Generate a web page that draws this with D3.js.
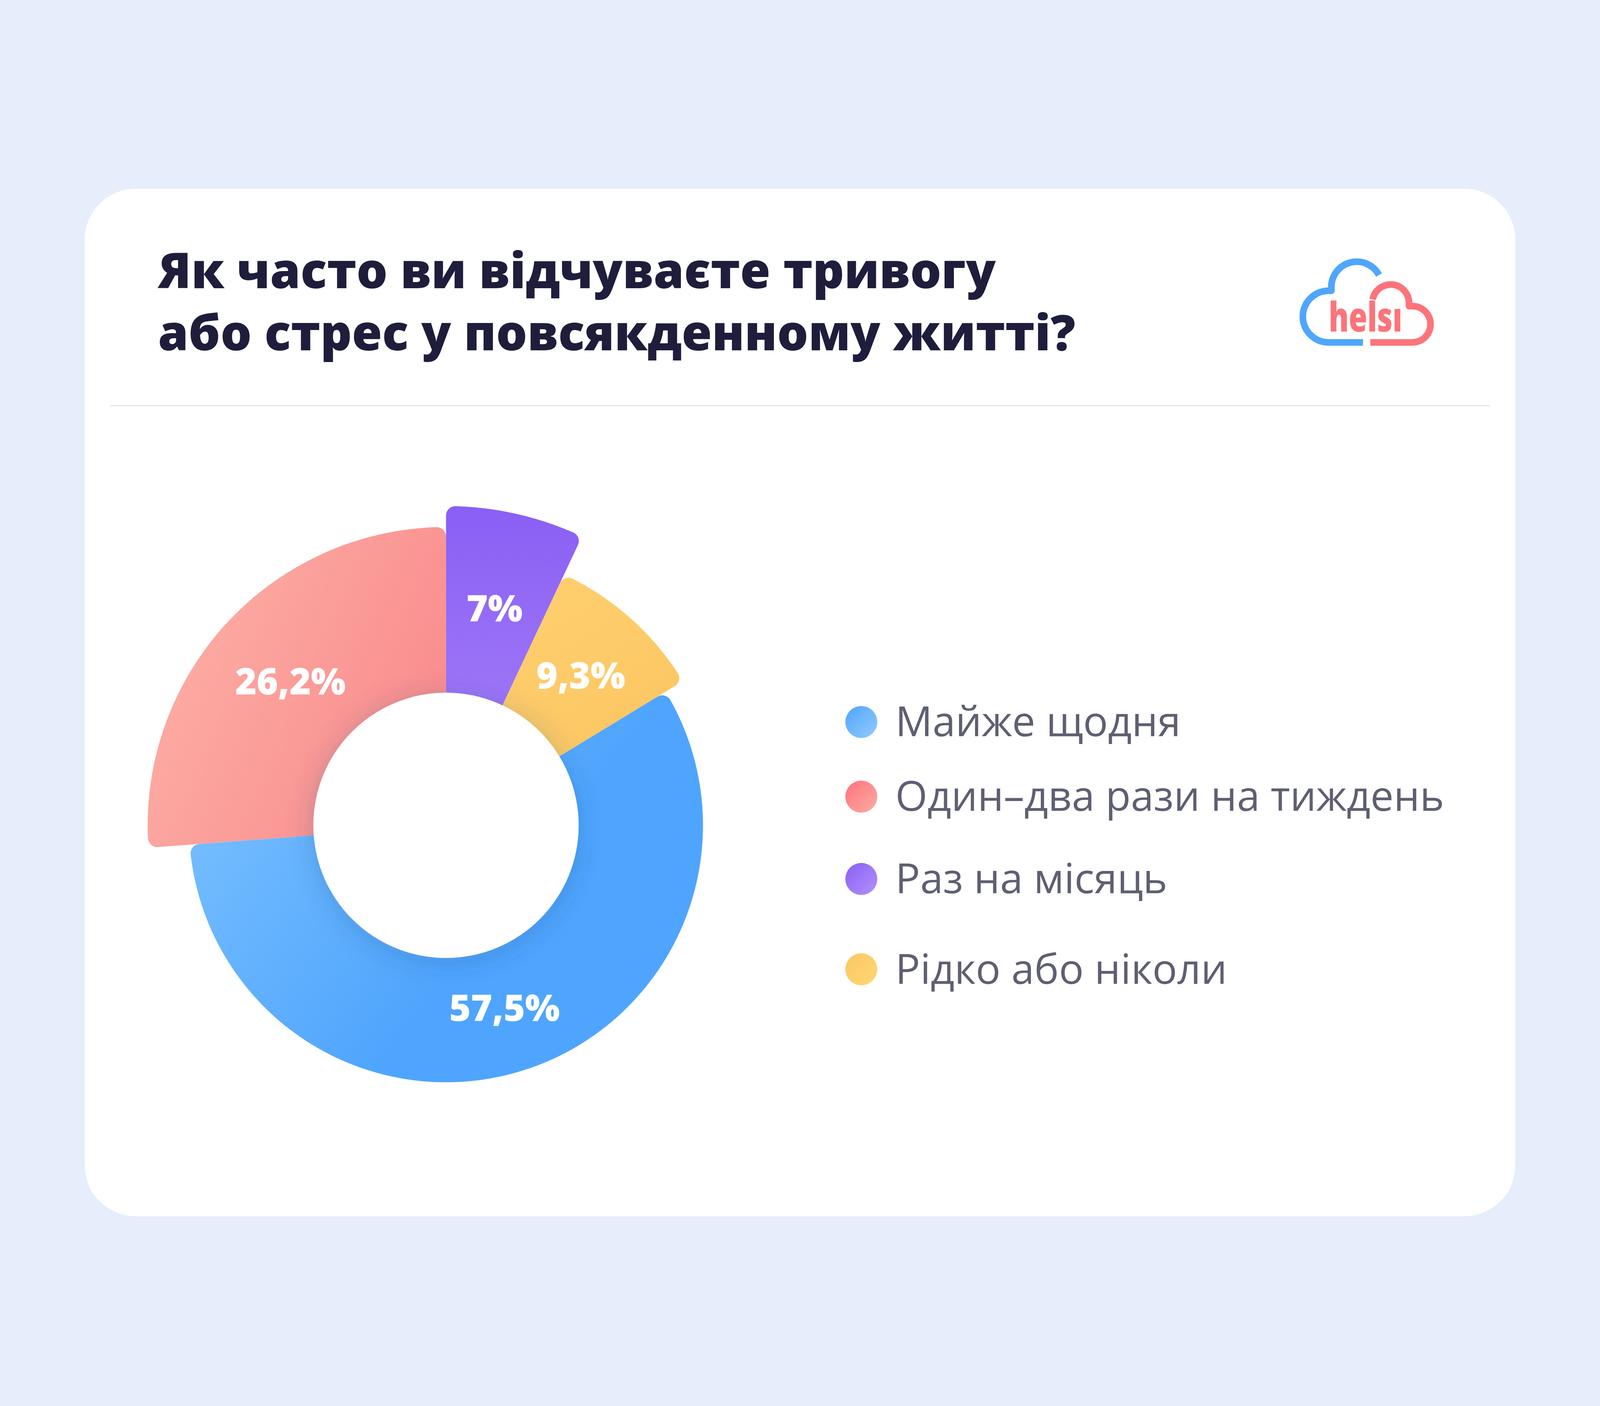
<!DOCTYPE html>
<html lang="uk">
<head>
<meta charset="UTF-8">
<title>Тривога та стрес</title>
<script src="https://d3js.org/d3.v7.min.js"></script>
<style>
  html, body { margin: 0; padding: 0; background: #e6eefc; overflow: hidden; }
  svg { display: block; width: 100vw; height: 100vh; }
</style>
</head>
<body>
<svg id="chart" viewBox="0 0 4800 3600" preserveAspectRatio="xMidYMid meet"></svg>
<script>
// data
var titleLines = ["Як часто ви відчуваєте тривогу", "або стрес у повсякденному житті?"];
var categories = ["Майже щодня", "Один–два рази на тиждень", "Раз на місяць", "Рідко або ніколи"];
var values = [57.5, 26.2, 7, 9.3];
var valueLabels = ["57,5%", "26,2%", "7%", "9,3%"];

// styling per slice (not data)
var outerRadii = [771, 895, 958, 832];
var sliceGrad = [
  {c: ["#72bbfe", "#4fa5fd"], v: [-800, 150, -150, 650]},
  {c: ["#fdaba3", "#f98f8f"], v: [-850, -450, -150, -150]},
  {c: ["#8a5ff5", "#9c74f6"], v: [0, -950, 0, -400]},
  {c: ["#fecd6c", "#fcc865"], v: [300, -600, 500, -300]}
];
var dotGrad = [
  ["#4fa5fd", "#92cbfd"],
  ["#fd727a", "#fcada3"],
  ["#8a5ff5", "#b192fa"],
  ["#fdc666", "#fed872"]
];

var svg = d3.select("#chart");
var defs = svg.append("defs");

svg.append("rect").attr("width", 4800).attr("height", 3600).attr("fill", "#e6eefc");
svg.append("rect")
  .attr("x", 254).attr("y", 257).attr("width", 4292).attr("height", 3083)
  .attr("rx", 153).attr("fill", "#ffffff");

// title
svg.append("g").selectAll("text")
  .data(titleLines)
  .enter().append("text")
  .attr("x", 474)
  .attr("y", (d, i) => 556 + i * 186)
  .attr("font-family", "'Open Sans', sans-serif")
  .attr("font-weight", 800)
  .attr("font-size", 147)
  .attr("fill", "#1e1d3b")
  .text(d => d);

svg.append("line")
  .attr("x1", 330).attr("x2", 4470).attr("y1", 908).attr("y2", 908)
  .attr("stroke", "#e4e6ef").attr("stroke-width", 4);

// logo
var logo = svg.append("g").attr("fill", "none").attr("stroke-width", 20).attr("stroke-linejoin", "round");
logo.append("path")
  .attr("d", "M4089 718 H3986 A77 77 0 0 1 3986 563 H3994 V552 A76 76 0 0 1 4137 516")
  .attr("stroke", "#4fa6fd");
logo.append("path")
  .attr("d", "M4111 718 H4237 A54 54 0 0 0 4237 609 H4227 V600 A55 55 0 0 0 4118 589")
  .attr("stroke", "#fd747a");
svg.append("text")
  .attr("x", 3986).attr("y", 686)
  .attr("font-family", "'Open Sans', sans-serif")
  .attr("font-weight", 800)
  .attr("font-size", 122)
  .attr("textLength", 221)
  .attr("lengthAdjust", "spacingAndGlyphs")
  .attr("fill", "#fd747a")
  .text("helsı");

// gradients
sliceGrad.forEach(function(g, i) {
  var lg = defs.append("linearGradient").attr("id", "sg" + i)
    .attr("gradientUnits", "userSpaceOnUse")
    .attr("x1", g.v[0]).attr("y1", g.v[1]).attr("x2", g.v[2]).attr("y2", g.v[3]);
  lg.append("stop").attr("offset", "0%").attr("stop-color", g.c[0]);
  lg.append("stop").attr("offset", "100%").attr("stop-color", g.c[1]);
});
dotGrad.forEach(function(g, i) {
  var lg = defs.append("linearGradient").attr("id", "dg" + i)
    .attr("x1", "0%").attr("y1", "0%").attr("x2", "100%").attr("y2", "100%");
  lg.append("stop").attr("offset", "0%").attr("stop-color", g[0]);
  lg.append("stop").attr("offset", "100%").attr("stop-color", g[1]);
});
var shadow = defs.append("filter").attr("id", "holeShadow")
  .attr("x", "-50%").attr("y", "-50%").attr("width", "200%").attr("height", "200%");
shadow.append("feDropShadow")
  .attr("dx", 0).attr("dy", 12).attr("stdDeviation", 40)
  .attr("flood-color", "#1d3d80").attr("flood-opacity", 0.22);

// donut
var cx = 1338, cy = 2167, hole = 398;
var start = (values[2] + values[3]) / 100 * 2 * Math.PI;
var pie = d3.pie().sort(null).value(d => d)
  .startAngle(start).endAngle(start + 2 * Math.PI);
var arcs = pie(values);

var g = svg.append("g").attr("transform", "translate(" + cx + "," + cy + ")");
g.selectAll("path.slice")
  .data(arcs)
  .enter().append("path")
  .attr("class", "slice")
  .attr("fill", (d, i) => "url(#sg" + i + ")")
  .attr("d", (d, i) => d3.arc().innerRadius(280).outerRadius(outerRadii[i]).cornerRadius(28)(d));

g.append("circle").attr("r", hole).attr("fill", "#ffffff").attr("filter", "url(#holeShadow)");

g.selectAll("text.val")
  .data(arcs)
  .enter().append("text")
  .attr("class", "val")
  .attr("transform", function(d, i) {
    var c = d3.arc().innerRadius(hole).outerRadius(outerRadii[i] - 20).centroid(d);
    return "translate(" + c[0] + "," + c[1] + ")";
  })
  .attr("dy", "0.36em")
  .attr("text-anchor", "middle")
  .attr("font-family", "'Open Sans', sans-serif")
  .attr("font-weight", 800)
  .attr("font-size", 110)
  .attr("fill", "#ffffff")
  .text((d, i) => valueLabels[i]);

// legend
var legendY = [1857, 2081, 2328, 2599];
var legend = svg.append("g").selectAll("g")
  .data(categories)
  .enter().append("g")
  .attr("transform", (d, i) => "translate(2584," + legendY[i] + ")");
legend.append("circle").attr("r", 48).attr("fill", (d, i) => "url(#dg" + i + ")");
legend.append("text")
  .attr("x", 102).attr("y", 43)
  .attr("font-family", "'Open Sans', sans-serif")
  .attr("font-size", 124)
  .attr("fill", "#5f5f73")
  .text(d => d);
</script>
</body>
</html>
